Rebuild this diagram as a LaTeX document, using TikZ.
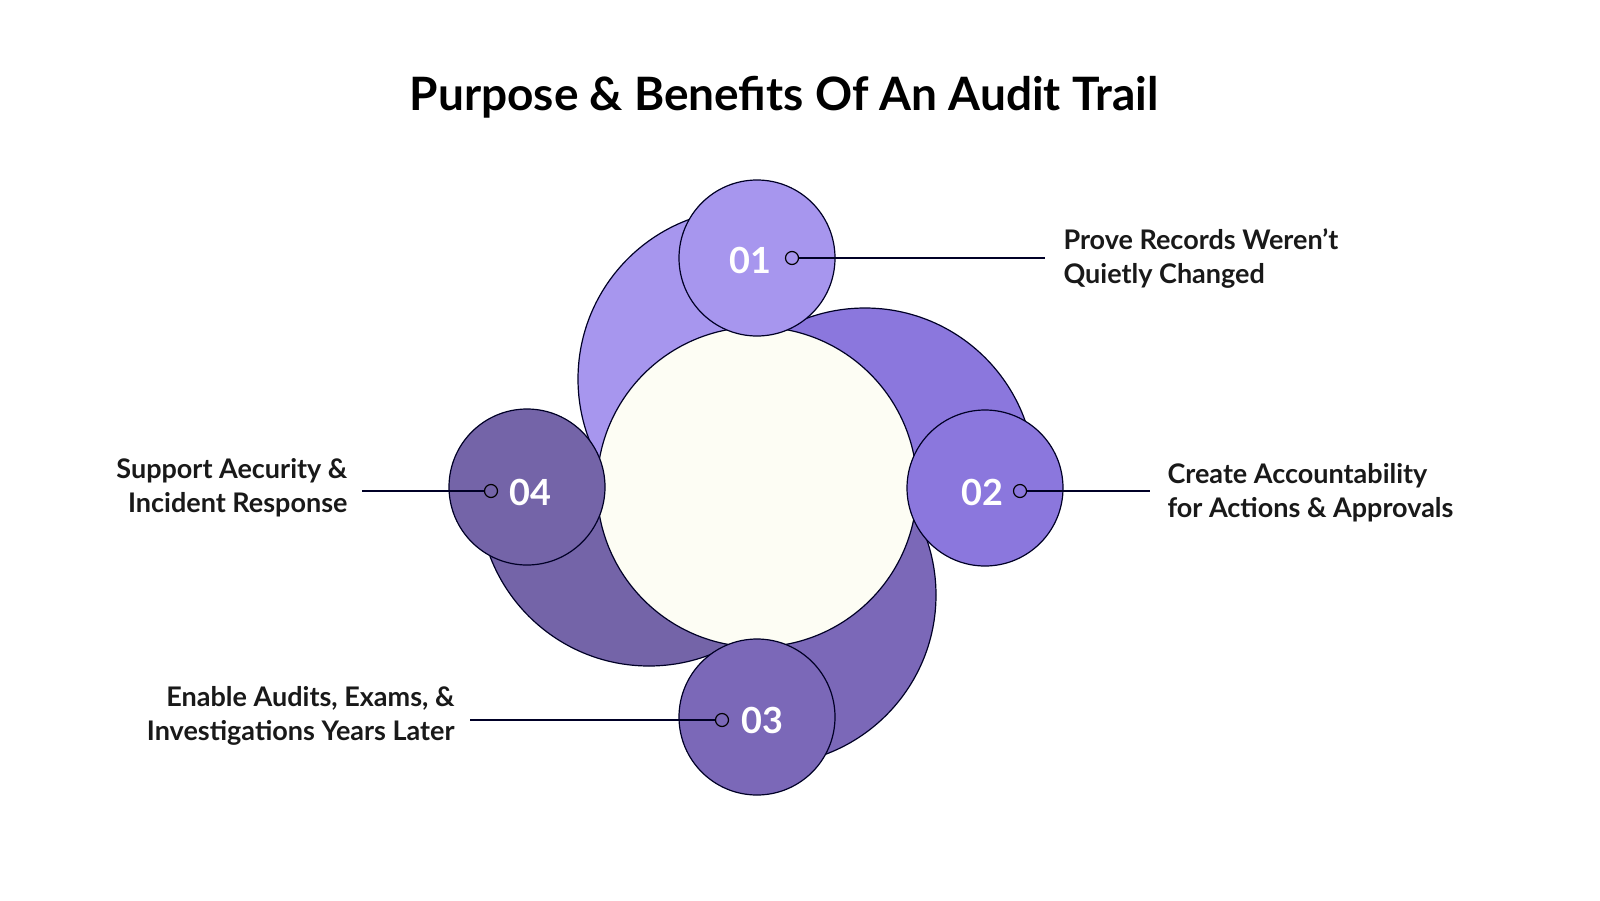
\documentclass[tikz,border=0pt]{standalone}
\usepackage{fontspec}
\setmainfont{Lato}
\begin{document}
\begin{tikzpicture}[x=1pt,y=-1pt,
  ol/.style={draw=black!85!blue, line width=1.2pt},
  num/.style={text=white, font=\fontsize{36}{36}\selectfont\bfseries},
  lab/.style={font=\fontsize{27}{34}\selectfont\bfseries, text=black!90},
  dot/.style={circle, draw=black, line width=1.2pt, inner sep=0pt, minimum size=13pt},
  ln/.style={draw=black!85!blue, line width=1.2pt}]
\definecolor{cA}{HTML}{A796EE}
\definecolor{cB}{HTML}{8B77DD}
\definecolor{cC}{HTML}{7B68B8}
\definecolor{cD}{HTML}{7464A8}
\definecolor{cZ}{HTML}{FDFDF4}
\node[font=\fontsize{46}{46}\selectfont\bfseries] (title) at (784,97) {Purpose \& Benefits Of An Audit Trail};
% crescents
\begin{scope}\clip (0,0) rectangle (757,487); \fill[cA,ol] (748,379) circle (170); \end{scope}
\begin{scope}\clip (757,0) rectangle (1600,487); \fill[cB,ol] (865,478) circle (170); \end{scope}
\begin{scope}\clip (757,487) rectangle (1600,900); \fill[cC,ol] (766,595) circle (170); \end{scope}
\begin{scope}\clip (0,487) rectangle (757,900); \fill[cD,ol] (649,496) circle (170); \end{scope}
\fill[cZ,ol] (757,487) circle (160);
\fill[cA,ol] (757,258) circle (78);
\fill[cB,ol] (985,488) circle (78);
\fill[cC,ol] (757,717) circle (78);
\fill[cD,ol] (527,487) circle (78);
\node[num] (n1) at (750,260) {01};
\node[num] (n2) at (982,492) {02};
\node[num] (n3) at (762,720) {03};
\node[num] (n4) at (530,492) {04};
\node[dot, fill=cA] (d1) at (792,258) {};
\node[dot, fill=cB] (d2) at (1020,491) {};
\node[dot, fill=cC] (d3) at (722,720) {};
\node[dot, fill=cD] (d4) at (491,491) {};
\coordinate (e1) at (1045,258);
\coordinate (e2) at (1150,491);
\coordinate (e3) at (470,720);
\coordinate (e4) at (362,491);
\draw[ln] (d1) -- (e1);
\draw[ln] (d2) -- (e2);
\draw[ln] (d3) -- (e3);
\draw[ln] (d4) -- (e4);
\node[lab, anchor=west, align=left] (l1) at (1060,259) {Prove Records Weren't\\Quietly Changed};
\node[lab, anchor=west, align=left] (l2) at (1164,493) {Create Accountability\\for Actions \& Approvals};
\node[lab, anchor=east, align=right] (l3) at (458,716) {Enable Audits, Exams, \&\\Investigations Years Later};
\node[lab, anchor=east, align=right] (l4) at (351,488) {Support Aecurity \&\\Incident Response};
\pgfresetboundingbox
\useasboundingbox (0,0) rectangle (1600,900);
\end{tikzpicture}
\end{document}
